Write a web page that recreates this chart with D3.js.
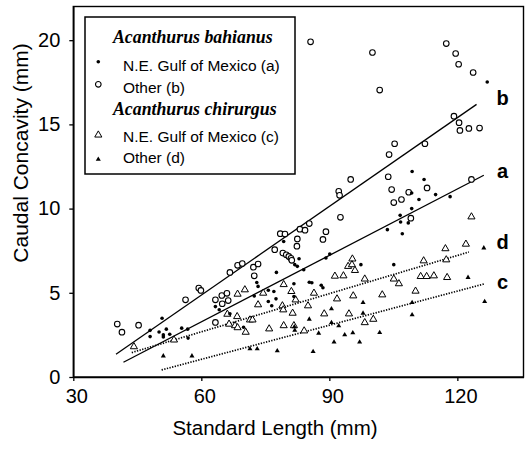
<!DOCTYPE html>
<html><head><meta charset="utf-8">
<script src="https://cdn.jsdelivr.net/npm/d3@7"></script>
<style>body{margin:0;background:#fff}svg{display:block}</style>
</head><body>
<svg id="c" width="527" height="450"></svg>
<script>
// ---- data (Standard Length mm, Caudal Concavity mm) ----
const bahianusNE = [ // (a) filled dots
 [50.8,3.49],[48.0,2.77],[48.0,2.40],[50.1,2.67],[51.1,2.50],[51.1,2.38],[51.8,2.84],[52.6,2.54],
 [55.4,2.90],[56.8,2.84],[56.9,2.31],[63.3,4.18],[64.2,3.99],[66.7,3.75],[69.9,2.95],[72.4,4.81],
 [73.0,5.61],[73.3,5.38],[75.7,5.15],[75.7,4.48],[76.5,4.23],[77.0,5.08],[77.5,4.64],[77.6,6.21],
 [79.3,8.05],[81.7,5.54],[81.7,4.78],[82.9,7.02],[81.9,6.67],[82.5,6.57],[84.0,6.37],[85.3,5.63],
 [85.9,5.60],[88.1,5.45],[88.5,5.30],[89.2,7.07],[90.1,7.30],[97.4,6.67],[105.1,6.67],[109.4,12.20],
 [112.2,11.73],[109.3,10.93],[111.0,10.54],[109.3,10.0],[106.6,9.60],[106.7,9.20],[108.5,9.15],
 [103.6,8.75],[107.1,8.51],[114.9,10.83],[118.3,10.71],[127.0,17.52]
];
const bahianusOther = [ // (b) open circles
 [40.3,3.14],[41.4,2.66],[45.3,3.08],[56.3,4.58],[59.4,5.28],[59.9,5.14],[63.3,4.58],[64.8,4.84],
 [64.9,4.35],[66.3,4.54],[66.0,4.97],[63.3,3.24],[66.7,6.21],[68.5,6.63],[69.6,6.74],[72.2,6.52],
 [73.3,6.71],[72.4,6.01],[77.2,7.56],[78.5,8.51],[79.6,8.49],[83.1,8.78],[84.3,8.72],[82.5,8.20],
 [82.4,7.77],[85.3,9.11],[89.2,8.63],[88.5,8.17],[79.1,7.36],[79.9,7.26],[80.5,7.16],[81.0,7.05],
 [81.2,6.93],[92.2,11.03],[92.4,10.79],[92.6,9.48],[95.0,11.73],[85.6,19.9],[100.1,19.27],[101.8,17.04],
 [105.3,13.85],[104.0,13.21],[112.4,13.85],[103.8,11.89],[104.6,11.13],[105.1,10.36],[106.9,10.54],
 [108.6,10.97],[112.9,11.23],[109.1,9.43],[117.4,19.80],[119.6,19.21],[120.3,18.57],[123.7,18.08],
 [119.2,15.49],[120.4,15.10],[120.6,14.64],[122.7,14.76],[125.2,14.78],[123.3,11.73]
];
const chirurgusNE = [ // (c) open triangles
 [44.2,1.80],[53.6,2.20],[66.1,3.73],[68.4,3.59],[66.5,3.14],[67.9,3.05],[68.5,2.93],[70.4,2.66],
 [71.4,3.39],[72.0,3.39],[68.5,4.92],[70.2,5.18],[74.5,4.98],[73.3,4.29],[75.9,2.86],[79.3,5.49],
 [81.1,5.08],[82.1,4.58],[79.0,4.23],[79.2,3.99],[81.4,3.79],[85.0,4.23],[86.4,4.98],[79.3,3.05],
 [81.7,3.05],[84.1,2.74],[88.8,3.75],[91.8,4.64],[94.6,3.75],[95.6,4.82],[91.3,5.99],[93.3,6.01],
 [95.4,7.01],[94.4,6.57],[95.3,6.67],[96.0,6.33],[98.3,5.82],[105.1,5.82],[106.3,5.54],[112.1,6.90],
 [111.4,5.97],[112.8,5.97],[114.5,6.01],[117.6,5.91],[102.4,4.88],[110.2,5.10],[98.3,3.23],[100.3,3.43],
 [123.3,9.51],[117.2,7.62],[122.0,7.89],[117.4,6.96]
];
const chirurgusOther = [ // (d) filled triangles
 [51.1,1.25],[57.8,1.25],[71.4,1.67],[73.1,1.67],[77.8,1.55],[86.2,1.51],[81.8,2.98],[81.9,2.77],
 [85.3,3.43],[87.5,2.60],[90.5,4.05],[90.5,3.23],[92.2,3.04],[91.1,2.07],[93.6,2.50],[95.5,2.62],
 [97.1,2.07],[97.9,4.42],[97.9,3.79],[101.8,2.64],[109.4,4.42],[109.4,3.69],[126.2,7.66],[122.5,5.91],
 [126.4,4.48]
];
// fitted lines: [x0,y0,x1,y1]
const fitB = [40.0,1.35,124.5,16.19];
const fitA = [41.75,0.875,126.2,11.98];
const fitD = [43.7,1.45,122.7,7.42];
const fitC = [50.7,0.42,126.2,5.52];
const lineLabels = ["b","a","d","c"];
const lineLabelX = 130.6;
const lineLabelY = [16.6,12.22,8.05,5.67];
const xTicks = [30,60,90,120];
const yTicks = [0,5,10,15,20];
const legendTitles = ["Acanthurus bahianus","Acanthurus chirurgus"];
const legendNames = ["N.E. Gulf of Mexico (a)","Other (b)","N.E. Gulf of Mexico (c)","Other (d)"];

// ---- drawing ----
const svg = d3.select("#c");
const L=73.3,R=523.5,T=6.5,B=377;
const x = d3.scaleLinear().domain([30,135.5]).range([L,R]);
const y = d3.scaleLinear().domain([0,22]).range([B,T]);
const FONT = "'Liberation Sans', Arial, sans-serif";

// frame
svg.append("rect").attr("x",L).attr("y",T).attr("width",R-L).attr("height",B-T)
  .attr("fill","none").attr("stroke","#000").attr("stroke-width",1.4);

const xa = svg.append("g").attr("transform",`translate(0,${B})`)
  .call(d3.axisBottom(x).tickValues(xTicks).tickSize(4).tickSizeOuter(0).tickFormat(d3.format("d")));
xa.selectAll("text").attr("font-family",FONT).attr("font-size",20).attr("fill","#000").attr("dy","0.95em").attr("dx",3);
const ya = svg.append("g").attr("transform",`translate(${L},0)`)
  .call(d3.axisLeft(y).tickValues(yTicks).tickSize(4).tickSizeOuter(0).tickFormat(d3.format("d")));
ya.selectAll("text").attr("font-family",FONT).attr("font-size",20).attr("fill","#000").attr("x",-13);
svg.selectAll(".domain").attr("stroke","#000").attr("stroke-width",1.6);
svg.selectAll(".tick line").attr("stroke","#000").attr("stroke-width",1.3);

svg.append("text").attr("x",275).attr("y",435).attr("text-anchor","middle")
  .attr("font-family",FONT).attr("font-size",20.5).text("Standard Length (mm)");
svg.append("text").attr("transform","translate(28,153) rotate(-90)").attr("text-anchor","middle")
  .attr("font-family",FONT).attr("font-size",21).text("Caudal Concavity (mm)");

// fit lines
const fits = [fitB,fitA,fitD,fitC];
const dashed = [false,false,true,true];
fits.forEach((f,i)=>{
  svg.append("line").attr("x1",x(f[0])).attr("y1",y(f[1])).attr("x2",x(f[2])).attr("y2",y(f[3]))
    .attr("stroke","#000").attr("stroke-width",dashed[i]?1.7:1.3)
    .attr("stroke-dasharray",dashed[i]?"1.3,1.4":null);
});
lineLabels.forEach((t,i)=>{
  svg.append("text").attr("x",x(lineLabelX)).attr("y",y(lineLabelY[i])).attr("dy","0.36em")
    .attr("text-anchor","middle").attr("font-family",FONT).attr("font-size",20).attr("font-weight","bold").text(t);
});

// points
const triOpen = d3.symbol().type(d3.symbolTriangle).size(22);
const triFill = d3.symbol().type(d3.symbolTriangle).size(11);
svg.append("g").selectAll("path").data(chirurgusNE).join("path")
  .attr("d",triOpen).attr("transform",d=>`translate(${x(d[0])},${y(d[1])})`)
  .attr("fill","#fff").attr("stroke","#000").attr("stroke-width",1);
svg.append("g").selectAll("path").data(chirurgusOther).join("path")
  .attr("d",triFill).attr("transform",d=>`translate(${x(d[0])},${y(d[1])})`).attr("fill","#000");
svg.append("g").selectAll("circle").data(bahianusOther).join("circle")
  .attr("cx",d=>x(d[0])).attr("cy",d=>y(d[1])).attr("r",2.8)
  .attr("fill","#fff").attr("stroke","#000").attr("stroke-width",1.1);
svg.append("g").selectAll("circle").data(bahianusNE).join("circle")
  .attr("cx",d=>x(d[0])).attr("cy",d=>y(d[1])).attr("r",1.8).attr("fill","#000");

// legend
const lg = svg.append("g");
lg.append("rect").attr("x",85).attr("y",17).attr("width",210).attr("height",157)
  .attr("fill","#fff").attr("stroke","#000").attr("stroke-width",1.5);
const SERIF = "'Liberation Serif','Times New Roman',serif";
[43.3,115].forEach((by,i)=>{
  lg.append("text").attr("x",113).attr("y",by).attr("font-family",SERIF).attr("font-size",17.8)
    .attr("font-style","italic").attr("font-weight","bold").text(legendTitles[i]);
});
const rowBase = [70.7,92.7,141.7,163.3];
const rowMark = [61.7,84.3,135,159.3];
legendNames.forEach((n,i)=>{
  lg.append("text").attr("x",123).attr("y",rowBase[i]).attr("font-family",FONT).attr("font-size",15.5).text(n);
  const g = lg.append("g").attr("transform",`translate(98.3,${rowMark[i]})`);
  if(i===0) g.append("circle").attr("r",1.8).attr("fill","#000");
  if(i===1) g.append("circle").attr("r",2.8).attr("fill","#fff").attr("stroke","#000").attr("stroke-width",1.1);
  if(i===2) g.append("path").attr("d",triOpen).attr("fill","#fff").attr("stroke","#000");
  if(i===3) g.append("path").attr("d",triFill).attr("fill","#000");
});
</script>
</body></html>
